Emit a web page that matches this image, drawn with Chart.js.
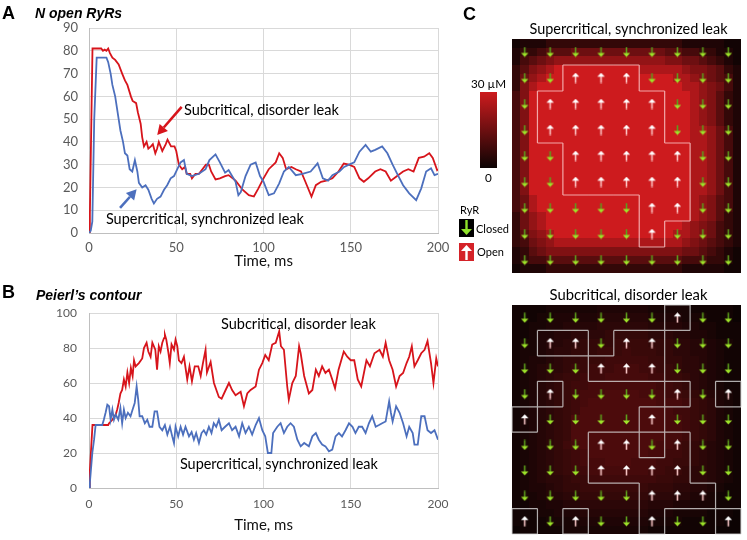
<!DOCTYPE html>
<html>
<head>
<meta charset="utf-8">
<script src="https://cdn.jsdelivr.net/npm/chart.js@4.4.1/dist/chart.umd.min.js"></script>
<style>
  body { margin: 0; background: #fff; }
  #page { position: relative; width: 747px; height: 540px; overflow: hidden; font-family: "Liberation Sans", Arial, sans-serif; }
  canvas { position: absolute; }
  .letter { position: absolute; font-weight: bold; font-size: 18px; line-height: 1; }
  .title { position: absolute; font-weight: bold; font-style: italic; font-size: 14px; line-height: 1; }
</style>
</head>
<body>
<div id="page">
  <canvas id="chartA" width="460" height="270" style="left:0;top:0"></canvas>
  <canvas id="chartB" width="460" height="270" style="left:0;top:270px"></canvas>
  <canvas id="heatSuper" width="292" height="280" style="left:455px;top:0"></canvas>
  <canvas id="heatSub" width="247" height="260" style="left:500px;top:280px"></canvas>
  <div class="letter" style="left:2px;top:4px">A</div>
  <div class="title" style="left:35px;top:6px">N open RyRs</div>
  <div class="letter" style="left:2px;top:283px">B</div>
  <div class="title" style="left:36px;top:288px">Peierl’s contour</div>
  <div class="letter" style="left:463px;top:5px">C</div>
</div>
<script>
// A: number of open RyRs (time in ms)
const timeOpenSub = [0, 0.5, 2, 3, 5, 7, 8, 9, 10, 11, 12, 13.4, 15, 17, 19, 20.6, 22, 24, 25, 27, 28, 29.6, 30.5, 31.5, 33, 34, 35.5, 36.6, 38, 39, 40, 41, 42, 44, 45, 47, 49, 50, 51.5, 53.4, 55, 56, 58, 59, 61, 63, 65, 67, 68.7, 70, 72.5, 75, 78, 80, 84, 88, 91.6, 94.5, 97, 100, 103, 107, 109, 111, 113, 116, 118.5, 121.5, 124, 127.5, 130, 133, 136, 139.5, 143, 146, 149, 152, 155, 157.5, 160, 164, 167, 170, 173, 176, 180, 183, 186, 189, 192, 195, 197, 199.5, 200];
const openSub = [0, 8, 81, 81, 81, 81, 80, 80.5, 80, 81, 79, 77, 76, 74, 70, 67, 65, 60, 58, 57, 53, 48, 42, 38, 40, 37, 38, 39, 35, 37, 40, 38, 36, 39, 41, 38, 38, 36, 30, 28, 29, 26, 26, 24, 26, 26, 28, 30, 30, 27, 23.5, 24, 25, 25.4, 23, 19, 16.6, 16, 19.5, 24, 28, 31, 35, 33, 28, 29, 28, 27, 22.5, 16, 21, 22.5, 23, 24, 27, 30.5, 30, 29, 24, 22.5, 24, 27, 28, 27, 23, 24.7, 27, 28, 27, 33, 33.5, 35, 33, 27.6, 28];
const timeOpenSuper = [0, 1, 1.9, 3, 4.4, 7, 10, 11, 12.4, 13.4, 15, 17, 18, 19.5, 20.6, 22, 23.3, 24.8, 26.3, 27.7, 28.6, 30.5, 32.4, 34, 35.9, 37.2, 39, 41, 43, 44.8, 46.8, 48.7, 50.6, 52.5, 54.4, 56, 59, 63, 66.8, 69, 72.5, 75, 78, 80, 82, 84, 85.6, 87, 89.7, 92.6, 95.5, 98, 100, 103, 106, 109, 111.7, 114.5, 118.5, 122.3, 127, 131, 134, 137, 139.5, 143.5, 146.2, 149, 152, 155, 158.5, 161.5, 164, 168, 171, 174, 177, 180, 183.5, 187.5, 190.4, 193.2, 196, 198, 200];
const openSuper = [0, 1, 5, 50, 77, 77, 77, 75, 70, 65, 60, 50, 45, 40, 35, 34, 28, 27, 32, 27, 22, 20, 21, 19, 15, 13, 15, 16, 19, 21, 24, 25, 28, 31, 32, 26, 25, 26, 28, 32, 34.5, 31, 26.5, 27.6, 25, 22.5, 16.6, 18, 25, 30, 31, 25, 22.5, 16.6, 17.4, 21.8, 27, 29, 25.4, 26, 27, 30.6, 24, 23, 25.4, 27, 29, 30, 31, 35.7, 38.7, 35.7, 36.5, 38, 35, 30, 25.4, 21, 17.4, 14.4, 19.6, 27, 28.4, 25.4, 26];

// B: Peierl's contour length
const timePeierlsSub = [0, 0.5, 2, 11, 11.5, 13.4, 15.3, 16.2, 17, 18, 19, 20, 21, 22, 23, 24, 25, 25.8, 26.7, 28.6, 30.5, 31.5, 33, 34, 35.3, 36.3, 38, 39, 40, 41, 42, 43, 43.5, 44.3, 45.4, 46.3, 47.3, 48.7, 49.6, 50.6, 51.5, 53, 54.4, 56.3, 57.6, 59, 60.6, 62.6, 64, 65.3, 66.8, 67.6, 69.7, 71.6, 74.4, 76, 78.3, 80.2, 82, 84, 86.9, 88.8, 90.7, 92.6, 95.5, 97.4, 99.3, 101, 103, 105, 107, 109, 110, 111.7, 113.6, 114.5, 116.5, 118.5, 120.4, 121.3, 123.3, 126, 128, 130, 131.7, 133.6, 135.5, 137.5, 139.4, 141, 143, 146, 148, 150, 152, 154, 156, 159, 161, 163.6, 166.5, 168.4, 170, 172, 174, 176, 178, 180, 182, 183.5, 185, 186.5, 188.4, 190.4, 192.3, 194, 196, 197.4, 199, 200];
const peierlsSub = [0, 10, 36, 36, 37, 39, 42, 45, 48.6, 54, 56, 62, 58, 66, 60, 68.6, 64, 73, 69.5, 71.4, 74, 80, 83, 78, 75, 83, 79, 67.6, 81, 78, 83, 85.7, 87.6, 84.8, 78, 71.4, 82, 79, 84.8, 81, 73, 71.4, 75, 62, 69.5, 61, 69.5, 69.5, 64, 71.4, 79, 66, 72, 60, 52, 51, 56, 60, 56, 53, 55, 46.7, 54, 56, 58, 67.6, 71.4, 76, 73, 82, 83, 89.5, 81, 79, 58, 50.5, 60, 64, 81, 77, 64, 54, 56, 67.6, 64, 69.5, 65.7, 67.6, 62, 57, 67.6, 78, 75, 73, 73, 62, 58, 73, 69.5, 77, 79, 75, 83, 73, 67.6, 58, 64, 65.7, 71.4, 75, 81, 69.5, 73, 77, 79, 84, 71.4, 60, 74, 69.5];
const timePeierlsSuper = [0, 0.5, 1.9, 2.9, 3.8, 7.6, 8.5, 9.5, 10.5, 11.5, 12.4, 13.4, 14.3, 15.3, 16.8, 18, 19, 20, 21, 22.3, 23.8, 25, 26.2, 27.3, 28.2, 29, 30.5, 32, 33.4, 34.7, 36.3, 37.6, 39, 40.4, 42, 43.5, 44.9, 46.4, 47.7, 48.7, 49.6, 51.1, 52.5, 53.9, 55.3, 57.3, 58.8, 60.1, 61.4, 63, 64.5, 65.8, 67.2, 68.7, 70.2, 71.5, 72.9, 74.4, 76, 78, 80.2, 82, 84, 86, 87.8, 89.7, 91.6, 93.5, 95.5, 97.4, 99.3, 101, 102.5, 104.5, 105.5, 107.9, 109.8, 111.7, 113.6, 115.5, 117.4, 119.4, 121.3, 123.3, 126, 128, 130, 131.7, 133.6, 135.5, 137.5, 139.4, 141.3, 143.2, 145, 147, 149, 151, 152.7, 154.6, 156.5, 158.5, 160.4, 162.3, 164.3, 166.2, 168, 170, 172, 173, 174, 176, 178, 180, 182, 183.5, 185.5, 186.5, 188.4, 190.4, 192.3, 194, 196, 198, 200];
const peierlsSuper = [0, 3, 20, 27.6, 36, 36, 39, 43, 47.6, 46.7, 39, 44.8, 39, 42, 39, 45.7, 37, 44.8, 40, 43, 41, 44.8, 48.6, 58, 50.5, 41, 41, 37, 39, 35, 35, 43.8, 43.8, 35, 33, 36, 30.5, 35, 29.5, 25.7, 35, 29.5, 35, 30.5, 35, 29.5, 32, 27.6, 31.4, 25.7, 31.4, 33, 30.5, 35, 31.4, 37, 35, 39, 33, 35, 37, 33, 35, 29.5, 37, 31.4, 35, 30.5, 36, 40, 33, 29.5, 20, 20, 31.4, 35, 37, 31.4, 35, 37, 35, 27.6, 23.8, 25.7, 23.8, 29.5, 31.4, 27.6, 24.8, 23.8, 21, 21.9, 29.5, 31.4, 29.5, 33, 37, 35, 31.4, 35, 35, 31.4, 37, 41, 35, 36, 37, 38, 49.5, 43, 38, 46.7, 43, 37, 29.5, 35, 31.4, 24.8, 24.8, 41, 41, 33, 31.4, 33, 27.6];

// C: Ca concentration maps, one char per sub-pixel, base-36 value in uM (u = 30)
const superField = [
  "133 366 666 666 666 666 663 333 311",
  "366 9cc cff fff fff fff cc9 966 331",
  "39c fil lll lll lll lll iif fc9 631",
  "6ci lpu uuu uuu uuu ppp ppl iif c63",
  "6fl puu uuu uuu uuu uuu upp lif c93",
  "6ip uuu uuu uuu uuu uuu uup pli f93",
  "9iu uuu uuu uuu uuu uuu uuu pli c63",
  "9iu uuu uuu uuu uuu uuu uuu pli c63",
  "9iu uuu uuu uuu uuu uuu uuu pli c63",
  "9iu uuu uuu uuu uuu uuu uuu pli c63",
  "9iu uuu uuu uuu uuu uuu uuu ppl f93",
  "9iu uuu uuu uuu uuu uuu uuu ppl f93",
  "9iu uuu uuu uuu uuu uuu uuu ppl f93",
  "9iu uuu uuu uuu uuu uuu uuu ppl f93",
  "9iu uuu uuu uuu uuu uuu uuu ppl f93",
  "9iu uuu uuu uuu uuu uuu uuu ppl f93",
  "9iu uuu uuu uuu uuu uuu uuu ppl f93",
  "9iu uuu uuu uuu uuu uuu uuu ppl f93",
  "9fp uuu uuu uuu uuu uuu uuu pli c93",
  "9fp uuu uuu uuu uuu uuu uuu pli c93",
  "6fl puu uuu uuu uuu uuu uuu pli c63",
  "6fl puu uuu uuu uuu uuu uup lif 963",
  "6ci lpu uuu uuu uuu uuu upp lif 963",
  "69f ilp ppp ppp ppp ppp ppl ifc 963",
  "36c fii iii iii iii iii iif fc9 631",
  "369 9cc ccc ccc ccc ccc cc9 996 631",
  "133 366 666 666 666 666 663 333 311"
];
const subField = [
  "111 122 222 233 333 322 222 111 110",
  "111 223 333 344 444 433 332 221 110",
  "112 233 444 455 555 544 443 322 111",
  "112 334 455 556 666 655 544 332 111",
  "122 344 556 666 777 766 655 443 221",
  "122 345 566 677 787 776 655 443 211",
  "123 345 667 778 888 877 665 543 211",
  "123 455 677 888 999 887 765 543 211",
  "123 456 778 889 999 988 776 543 211",
  "123 456 788 999 999 998 876 543 211",
  "123 456 789 99a aaa 999 887 654 321",
  "123 456 789 aaa aaa aa9 998 765 321",
  "123 456 78a aaa aaa aaa 988 765 321",
  "123 456 7aa aaa aaa aaa 998 765 321",
  "123 456 7aa aaa aaa aaa 998 765 321",
  "123 456 7aa aaa aaa aaa 998 765 321",
  "123 456 89a aaa aaa aa9 987 654 321",
  "123 456 789 aaa aaa a99 887 654 321",
  "123 456 789 99a aa9 998 877 654 321",
  "123 456 788 999 999 988 776 554 321",
  "123 455 677 888 888 887 766 554 321",
  "123 345 667 777 777 766 655 443 211",
  "122 344 556 666 666 655 544 332 111",
  "112 233 445 555 555 544 433 222 111",
  "111 223 334 444 444 433 322 221 110",
  "111 122 223 333 333 322 221 111 100",
  "011 111 222 222 222 211 111 111 000"
];
// RyR states, 1 = open
const superRyR = ["000000000", "001110000", "011111000", "011111000", "001111100", "001111100", "000001100", "000001000", "000000000"];
const subRyR = ["000000100", "011011000", "000111000", "010000101", "100001000", "000110100", "000111100", "000001110", "101001001"];

const RED = "#d7141b";
const BLUE = "#4c6fbd";
const TEXT_FONT = "Lato, 'Open Sans', sans-serif";

function fitFont(ctx, text, width, weight) {
  ctx.font = `${weight || ""} 20px ${TEXT_FONT}`;
  const size = 20 * width / ctx.measureText(text).width;
  return `${weight || ""} ${size.toFixed(2)}px ${TEXT_FONT}`;
}

function drawArrow(ctx, x0, y0, x1, y1, color) {
  const ang = Math.atan2(y1 - y0, x1 - x0);
  const len = 10, half = 5.5;
  const bx = x1 - len * Math.cos(ang), by = y1 - len * Math.sin(ang);
  ctx.save();
  ctx.strokeStyle = color;
  ctx.fillStyle = color;
  ctx.lineWidth = 2.6;
  ctx.beginPath();
  ctx.moveTo(x0, y0);
  ctx.lineTo(bx, by);
  ctx.stroke();
  ctx.beginPath();
  ctx.moveTo(x1, y1);
  ctx.lineTo(bx + half * Math.sin(ang), by - half * Math.cos(ang));
  ctx.lineTo(bx - half * Math.sin(ang), by + half * Math.cos(ang));
  ctx.closePath();
  ctx.fill();
  ctx.restore();
}

function notesPlugin(notes, arrows) {
  return {
    id: "notes",
    afterDatasetsDraw(chart) {
      const {ctx, scales: {x, y}} = chart;
      arrows.forEach(a => drawArrow(ctx, x.getPixelForValue(a.from[0]), y.getPixelForValue(a.from[1]),
        x.getPixelForValue(a.to[0]), y.getPixelForValue(a.to[1]), a.color));
      ctx.save();
      ctx.fillStyle = "#000";
      ctx.textBaseline = "middle";
      ctx.textAlign = "left";
      notes.forEach(n => {
        ctx.font = fitFont(ctx, n.text, n.width);
        ctx.fillText(n.text, x.getPixelForValue(n.at[0]), y.getPixelForValue(n.at[1]));
      });
      ctx.restore();
    }
  };
}

function lineChart(id, series, yMax, yStep, f) {
  return new Chart(document.getElementById(id), {
    type: "line",
    data: {
      datasets: series.map(s => ({
        data: s.t.map((t, i) => ({x: t, y: s.v[i]})),
        borderColor: s.color,
        borderWidth: 1.8,
        pointRadius: 0,
        tension: 0,
        fill: false
      }))
    },
    options: {
      responsive: false,
      animation: false,
      layout: {padding: {left: 0, right: 22, top: f.top, bottom: 0}},
      plugins: {legend: {display: false}, tooltip: {enabled: false}},
      scales: {
        x: {
          type: "linear", min: 0, max: 200,
          ticks: {stepSize: 50, color: "#595959", font: {family: TEXT_FONT, size: f.tickSize}, padding: f.xPad, maxRotation: 0},
          grid: {color: "#d9d9d9", drawTicks: false},
          border: {color: "#bfbfbf"},
          title: {display: true, text: "Time, ms", color: "#111", font: {family: TEXT_FONT, size: 15}, padding: {top: 0, bottom: f.titlePad}},
          afterFit: s => { s.height = f.xHeight; }
        },
        y: {
          min: 0, max: yMax,
          ticks: {stepSize: yStep, color: "#595959", font: {family: TEXT_FONT, size: f.tickSize}, padding: f.yPad},
          grid: {color: "#d9d9d9", drawTicks: false},
          border: {color: "#bfbfbf"},
          afterFit: s => { s.width = 89; }
        }
      }
    },
    plugins: [notesPlugin(f.notes, f.arrows)]
  });
}

lineChart("chartA", [
  {t: timeOpenSuper, v: openSuper, color: BLUE},
  {t: timeOpenSub, v: openSub, color: RED}
], 90, 10, {
  top: 28, xHeight: 37, xPad: 7, yPad: 11, titlePad: 0, tickSize: 13,
  notes: [
    {text: "Subcritical, disorder leak", at: [54.4, 54], width: 155},
    {text: "Supercritical, synchronized leak", at: [9.7, 6.2], width: 198}
  ],
  arrows: [
    {from: [53.1, 55.4], to: [39.1, 43.0], color: RED},
    {from: [17.8, 11], to: [27.3, 19.2], color: BLUE}
  ]
});

lineChart("chartB", [
  {t: timePeierlsSuper, v: peierlsSuper, color: BLUE},
  {t: timePeierlsSub, v: peierlsSub, color: RED}
], 100, 20, {
  top: 43, xHeight: 52, xPad: 9, yPad: 12, titlePad: 6, tickSize: 12,
  notes: [
    {text: "Subcritical, disorder leak", at: [75.6, 93.3], width: 155},
    {text: "Supercritical, synchronized leak", at: [52.1, 13.3], width: 198}
  ],
  arrows: []
});

// heat maps
function umColor(v) {
  const f = Math.min(v, 30) / 30;
  return `rgb(${Math.round(12 + 193 * f)},${Math.round(3 + 24 * f)},${Math.round(3 + 27 * f)})`;
}

function markerIcon(open) {
  const cv = document.createElement("canvas");
  cv.width = 9; cv.height = 11;
  const g = cv.getContext("2d");
  g.lineWidth = 1.6;
  if (open) {
    g.strokeStyle = "rgba(255,205,205,0.95)";
    g.beginPath(); g.moveTo(4.5, 3); g.lineTo(4.5, 10.5); g.stroke();
    g.fillStyle = "#ffffff";
    g.beginPath(); g.moveTo(0.8, 4.2); g.lineTo(8.2, 4.2); g.lineTo(4.5, 0.3); g.closePath(); g.fill();
  } else {
    g.strokeStyle = "#5d9e1c";
    g.beginPath(); g.moveTo(4.5, 0.5); g.lineTo(4.5, 8); g.stroke();
    g.fillStyle = "#9ee32a";
    g.beginPath(); g.moveTo(0.8, 6.6); g.lineTo(8.2, 6.6); g.lineTo(4.5, 10.6); g.closePath(); g.fill();
  }
  return cv;
}

function legendIcon(g, x, y, open) {
  g.save();
  g.fillStyle = open ? "#d42228" : "#000";
  g.fillRect(x, y, 15, 18);
  const cx = x + 7.5;
  g.fillStyle = open ? "#fff" : "#8fe22a";
  g.strokeStyle = g.fillStyle;
  g.lineWidth = 2.4;
  g.beginPath();
  if (open) {
    g.moveTo(cx, y + 7); g.lineTo(cx, y + 17); g.stroke();
    g.beginPath(); g.moveTo(x + 2, y + 8); g.lineTo(x + 13, y + 8); g.lineTo(cx, y + 2); g.closePath(); g.fill();
  } else {
    g.moveTo(cx, y + 1); g.lineTo(cx, y + 11); g.stroke();
    g.beginPath(); g.moveTo(x + 2, y + 10); g.lineTo(x + 13, y + 10); g.lineTo(cx, y + 16); g.closePath(); g.fill();
  }
  g.restore();
}

function heatPlugin(field, ryr, title, titleWidth, titleY, lineColor, withLegend) {
  return {
    id: "heat",
    beforeDatasetsDraw(chart) {
      const {ctx, scales: {x, y}} = chart;
      field.forEach((row, r) => {
        const cells = row.replace(/ /g, "");
        for (let c = 0; c < cells.length; c++) {
          const x0 = Math.round(x.getPixelForValue(c)), x1 = Math.round(x.getPixelForValue(c + 1));
          const y0 = Math.round(y.getPixelForValue(r)), y1 = Math.round(y.getPixelForValue(r + 1));
          ctx.fillStyle = umColor(parseInt(cells[c], 36));
          ctx.fillRect(x0, y0, x1 - x0, y1 - y0);
        }
      });
      // contour around open release sites
      const isOpen = (r, c) => r >= 0 && r < 9 && c >= 0 && c < 9 && ryr[r][c] === "1";
      ctx.save();
      ctx.strokeStyle = lineColor;
      ctx.lineWidth = 1.2;
      ctx.beginPath();
      const seg = (a, b, cc, d) => {
        ctx.moveTo(x.getPixelForValue(a), y.getPixelForValue(b));
        ctx.lineTo(x.getPixelForValue(cc), y.getPixelForValue(d));
      };
      for (let r = 0; r < 9; r++) {
        for (let c = 0; c < 9; c++) {
          if (!isOpen(r, c)) continue;
          const L = 3 * c, R = 3 * c + 3, T = 3 * r, B = 3 * r + 3;
          if (!isOpen(r - 1, c)) seg(L, T, R, T);
          if (!isOpen(r + 1, c)) seg(L, B, R, B);
          if (!isOpen(r, c - 1)) seg(L, T, L, B);
          if (!isOpen(r, c + 1)) seg(R, T, R, B);
        }
      }
      ctx.stroke();
      ctx.restore();
    },
    afterDraw(chart) {
      const {ctx, chartArea} = chart;
      ctx.save();
      ctx.fillStyle = "#000";
      ctx.textAlign = "center";
      ctx.textBaseline = "middle";
      ctx.font = fitFont(ctx, title, titleWidth);
      ctx.fillText(title, (chartArea.left + chartArea.right) / 2 + 2, titleY);
      if (withLegend) {
        const grad = ctx.createLinearGradient(0, 92, 0, 168);
        grad.addColorStop(0, umColor(30));
        grad.addColorStop(1, umColor(0));
        ctx.fillStyle = grad;
        ctx.fillRect(25, 92, 17, 76);
        ctx.fillStyle = "#000";
        ctx.font = fitFont(ctx, "30 µM", 35);
        ctx.fillText("30 µM", 33.5, 84);
        ctx.fillText("0", 33.5, 178);
        ctx.textAlign = "left";
        ctx.font = fitFont(ctx, "Closed", 33);
        ctx.fillText("RyR", 5, 210);
        ctx.fillText("Closed", 21, 229);
        ctx.fillText("Open", 22, 252);
        legendIcon(ctx, 4, 219, false);
        legendIcon(ctx, 4, 243, true);
      }
      ctx.restore();
    }
  };
}

function heatChart(id, field, ryr, pad, plugin) {
  const pts = open => {
    const out = [];
    ryr.forEach((row, r) => row.split("").forEach((s, c) => {
      if ((s === "1") === open) out.push({x: 3 * c + 1.5, y: 3 * r + 1.5});
    }));
    return out;
  };
  return new Chart(document.getElementById(id), {
    type: "scatter",
    data: {
      datasets: [
        {data: pts(false), pointStyle: markerIcon(false), pointRadius: 5},
        {data: pts(true), pointStyle: markerIcon(true), pointRadius: 5}
      ]
    },
    options: {
      responsive: false,
      animation: false,
      layout: {padding: pad},
      plugins: {legend: {display: false}, tooltip: {enabled: false}},
      scales: {
        x: {type: "linear", min: 0, max: 27, display: false},
        y: {type: "linear", min: 0, max: 27, reverse: true, display: false}
      }
    },
    plugins: [plugin]
  });
}

heatChart("heatSuper", superField, superRyR, {left: 57, right: 2, top: 39, bottom: 7},
  heatPlugin(superField, superRyR, "Supercritical, synchronized leak", 198, 29, "rgba(255,215,215,0.75)", true));
heatChart("heatSub", subField, subRyR, {left: 12, right: 2, top: 25, bottom: 2},
  heatPlugin(subField, subRyR, "Subcritical, disorder leak", 158, 15, "rgba(215,215,215,0.8)", false));
</script>
</body>
</html>
